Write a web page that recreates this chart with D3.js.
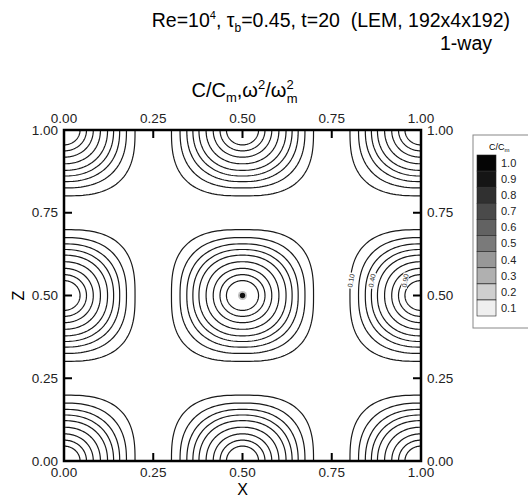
<!DOCTYPE html>
<html lang="en">
  <head>
    <meta charset="UTF-8" />
    <title>C/Cm contours</title>
    <style>
      body { margin: 0; background: #fff; }
      svg { font-family: "Liberation Sans", Arial, sans-serif; }
      .contour { fill: none; stroke: #1a1a1a; stroke-width: 1.2; }
      .frame { fill: none; stroke: #000; stroke-width: 2.5; }
      .tick { stroke: #000; stroke-width: 2; }
      .tl { font-size: 13.5px; fill: #222; }
    </style>
  </head>
  <body>
    <div id="container"></div>
  </body>
  <script src="https://cdnjs.cloudflare.com/ajax/libs/d3/7.8.5/d3.min.js"></script>
  <script>
    // contour levels and their half-width (data units)
    let levels = [0.1, 0.2, 0.3, 0.4, 0.5, 0.6, 0.7, 0.8, 0.9];
    let halfWidth = [0.199, 0.175, 0.156, 0.139, 0.122, 0.102, 0.082, 0.063, 0.045];
    // squareness of each ring (2 = circle)
    let squareness = [2.8, 2.5, 2.35, 2.25, 2.2, 2.15, 2.1, 2.05, 2.0];
    // blob centres (x, z)
    let centers = [
      [0, 0], [0.5, 0], [1, 0],
      [0, 0.5], [0.5, 0.5], [1, 0.5],
      [0, 1], [0.5, 1], [1, 1]
    ];
    let peaks = [[0.5, 0.5]];
    // labelled contours on the right-hand blob
    let labelCenter = [1, 0.5];
    let labelLevels = ["0.10", "0.40", "0.90"];
    let labelIdx = [0, 3, 8];
    let ticks = [0, 0.25, 0.5, 0.75, 1];
    let legendLevels = [1.0, 0.9, 0.8, 0.7, 0.6, 0.5, 0.4, 0.3, 0.2, 0.1];
    let legendShades = ["#050505", "#151515", "#303030", "#4a4a4a", "#626262",
      "#7a7a7a", "#989898", "#b0b0b0", "#cfcfcf", "#efefef"];

    let width = 528, height = 497,
      margin = { left: 64, top: 130, right: 107, bottom: 36 },
      g_width = width - margin.left - margin.right,
      g_height = height - margin.top - margin.bottom;

    let x = d3.scaleLinear().domain([0, 1]).range([0, g_width]);
    let z = d3.scaleLinear().domain([0, 1]).range([g_height, 0]);

    let svg = d3.select("#container").append("svg")
      .attr("width", width).attr("height", height);

    svg.append("defs").append("clipPath").attr("id", "clip")
      .append("rect").attr("width", g_width).attr("height", g_height);

    let g = svg.append("g").attr("transform", `translate(${margin.left},${margin.top})`);
    let plot = g.append("g").attr("clip-path", "url(#clip)");

    // ring points around a centre
    function ring(c, r, p) {
      let pts = [];
      for (let k = 0; k < 160; k++) {
        let t = (k / 160) * 2 * Math.PI;
        let ct = Math.cos(t), st = Math.sin(t);
        pts.push([
          c[0] + r * Math.sign(ct) * Math.pow(Math.abs(ct), 2 / p),
          c[1] + r * Math.sign(st) * Math.pow(Math.abs(st), 2 / p)
        ]);
      }
      return pts;
    }
    let line = d3.line().x((d) => x(d[0])).y((d) => z(d[1])).curve(d3.curveLinearClosed);

    // centre peak of omega^2
    plot.selectAll(".halo").data(peaks).join("circle")
      .attr("cx", (d) => x(d[0])).attr("cy", (d) => z(d[1]))
      .attr("r", 4.5).attr("fill", "#999").attr("opacity", 0.6);
    plot.selectAll(".peak").data(peaks).join("circle")
      .attr("cx", (d) => x(d[0])).attr("cy", (d) => z(d[1]))
      .attr("r", 2.7).attr("fill", "#111");

    centers.forEach((c) => {
      levels.forEach((lv, i) => {
        plot.append("path").attr("class", "contour")
          .attr("d", line(ring(c, halfWidth[i], squareness[i])));
      });
    });

    // contour labels
    labelIdx.forEach((i, k) => {
      let px = labelCenter[0] - halfWidth[i] * 0.985, pz = labelCenter[1] + 0.045;
      let tx = x(px), ty = z(pz);
      plot.append("rect")
        .attr("x", -8).attr("y", -3).attr("width", 16).attr("height", 6)
        .attr("fill", "#fff")
        .attr("transform", `translate(${tx},${ty}) rotate(-80)`);
      plot.append("text").text(labelLevels[k])
        .attr("transform", `translate(${tx},${ty}) rotate(-80)`)
        .attr("text-anchor", "middle").attr("dy", "0.35em")
        .style("font-size", "7px").style("fill", "#333");
    });

    // frame
    g.append("rect").attr("class", "frame").attr("width", g_width).attr("height", g_height);

    // ticks inward on all four sides
    let tl = 8;
    ticks.forEach((t) => {
      g.append("line").attr("class", "tick").attr("x1", x(t)).attr("x2", x(t)).attr("y1", g_height).attr("y2", g_height - tl);
      g.append("line").attr("class", "tick").attr("x1", x(t)).attr("x2", x(t)).attr("y1", 0).attr("y2", tl);
      g.append("line").attr("class", "tick").attr("y1", z(t)).attr("y2", z(t)).attr("x1", 0).attr("x2", tl);
      g.append("line").attr("class", "tick").attr("y1", z(t)).attr("y2", z(t)).attr("x1", g_width).attr("x2", g_width - tl);

      g.append("text").attr("class", "tl").text(t.toFixed(2))
        .attr("x", x(t)).attr("y", g_height + 16).attr("text-anchor", "middle");
      g.append("text").attr("class", "tl").text(t.toFixed(2))
        .attr("x", x(t)).attr("y", -7).attr("text-anchor", "middle");
      g.append("text").attr("class", "tl").text(t.toFixed(2))
        .attr("x", -6).attr("y", z(t)).attr("dy", "0.35em").attr("text-anchor", "end");
      g.append("text").attr("class", "tl").text(t.toFixed(2))
        .attr("x", g_width + 6).attr("y", z(t)).attr("dy", "0.35em").attr("text-anchor", "start");
    });

    // axis titles
    g.append("text").text("X").attr("x", x(0.5)).attr("y", g_height + 34)
      .attr("text-anchor", "middle").style("font-size", "16px");
    g.append("text").text("Z")
      .attr("transform", `translate(-46,${z(0.5)}) rotate(-90)`)
      .attr("text-anchor", "middle").attr("dy", "0.35em").style("font-size", "16px");

    // plot title
    let t2 = g.append("text").attr("x", x(0.5) + 2).attr("y", -33)
      .attr("text-anchor", "middle").style("font-size", "20px");
    t2.append("tspan").text("C/C");
    t2.append("tspan").text("m").attr("dy", 5).style("font-size", "13px");
    t2.append("tspan").text(",ω").attr("dy", -5);
    t2.append("tspan").text("2").attr("dy", -8).style("font-size", "13px");
    t2.append("tspan").text("/ω").attr("dy", 8);
    t2.append("tspan").text("2").attr("dy", -8).style("font-size", "13px");
    t2.append("tspan").text("m").attr("dx", -7).attr("dy", 14).style("font-size", "13px");

    // main title
    let t1 = svg.append("text").attr("x", 510).attr("y", 27)
      .attr("text-anchor", "end").style("font-size", "19.5px");
    t1.append("tspan").text("Re=10");
    t1.append("tspan").text("4").attr("dy", -8).style("font-size", "11px");
    t1.append("tspan").text(", τ").attr("dy", 8);
    t1.append("tspan").text("b").attr("dy", 5).style("font-size", "12px");
    t1.append("tspan").text("=0.45, t=20  (LEM, 192x4x192)").attr("dy", -5).attr("xml:space", "preserve");
    svg.append("text").text("1-way").attr("x", 466).attr("y", 50)
      .attr("text-anchor", "middle").style("font-size", "19.5px");

    // legend
    let lg = svg.append("g").attr("transform", "translate(473,135)");
    lg.append("rect").attr("width", 70).attr("height", 193)
      .attr("fill", "#fff").attr("stroke", "#888").attr("stroke-width", 1);
    let lt = lg.append("text").attr("x", 16).attr("y", 15).style("font-size", "9px");
    lt.append("tspan").text("C/C");
    lt.append("tspan").text("m").attr("dy", 2).style("font-size", "6px");
    let ly = d3.scaleLinear().domain([1.0, 0.1]).range([28, 173]);
    lg.selectAll(".sw").data(legendLevels).join("rect")
      .attr("x", 4).attr("y", (d) => ly(d) - 8).attr("width", 19).attr("height", 16)
      .attr("fill", (d, i) => legendShades[i]).attr("stroke", "#222").attr("stroke-width", 0.6);
    lg.selectAll(".lb").data(legendLevels).join("text")
      .text((d) => d.toFixed(1))
      .attr("x", 28).attr("y", (d) => ly(d)).attr("dy", "0.35em")
      .style("font-size", "11px").style("fill", "#222");
  </script>
</html>
